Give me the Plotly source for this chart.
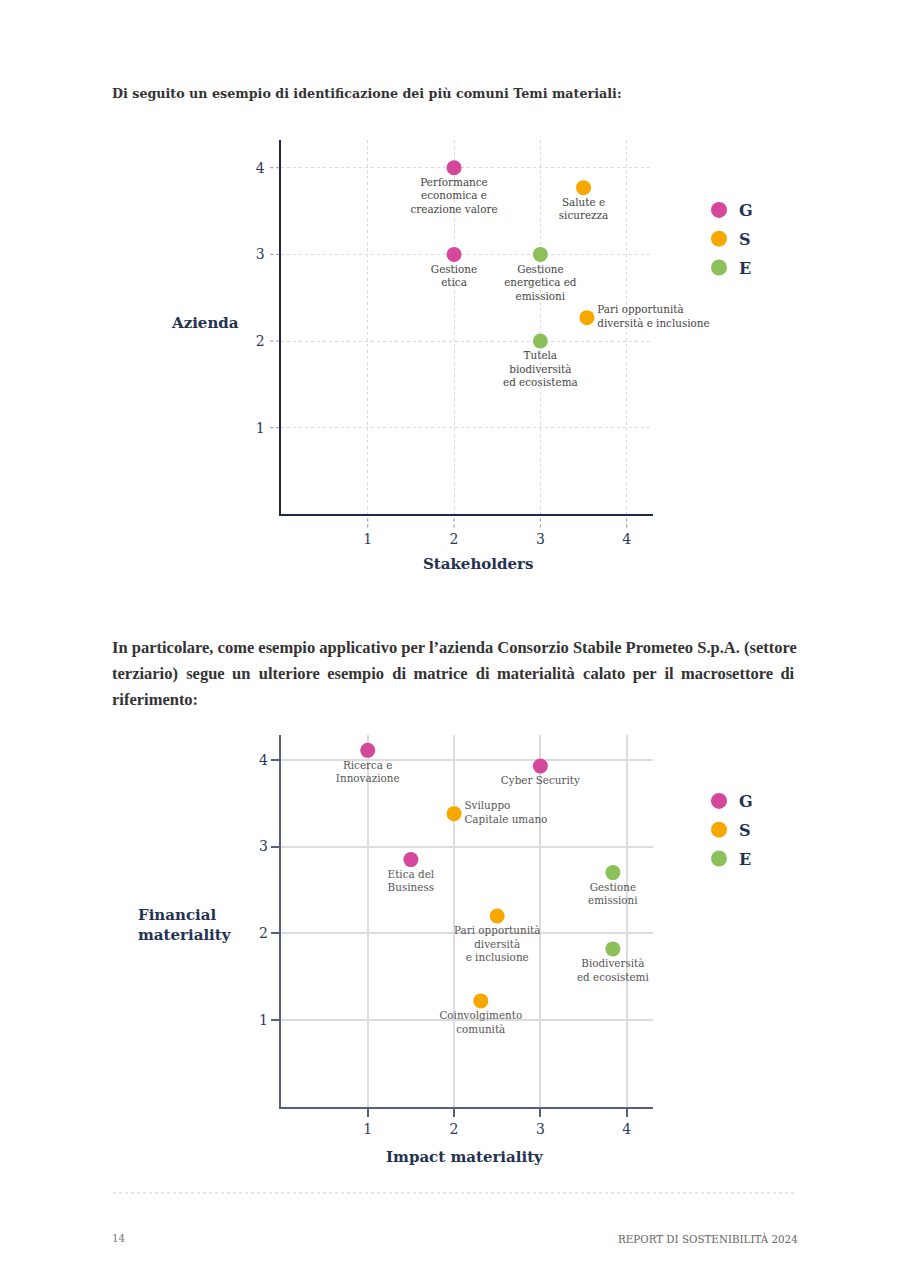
import plotly.graph_objects as go

W, H = 910, 1287

# ---------------- data ----------------
tick_vals = [1, 2, 3, 4]
categories = ["G", "S", "E"]
cat_colors = {"G": "#d5479b", "S": "#f7a800", "E": "#8cc05b"}

c1_labels = ["Performance<br>economica e<br>creazione valore", "Salute e<br>sicurezza",
             "Gestione<br>etica", "Gestione<br>energetica ed<br>emissioni",
             "Pari opportunità<br>diversità e inclusione", "Tutela<br>biodiversità<br>ed ecosistema"]
c1_stakeholders = [2, 3.5, 2, 3, 3.54, 3]
c1_azienda = [4, 3.77, 3, 3, 2.27, 2]
c1_cat = ["G", "S", "G", "E", "S", "E"]

c2_labels = ["Ricerca e<br>Innovazione", "Cyber Security", "Sviluppo<br>Capitale umano",
             "Etica del<br>Business", "Gestione<br>emissioni",
             "Pari opportunità<br>diversità<br>e inclusione", "Biodiversità<br>ed ecosistemi",
             "Coinvolgimento<br>comunità"]
c2_impact = [1, 3, 2, 1.5, 3.84, 2.5, 3.84, 2.31]
c2_financial = [4.11, 3.93, 3.38, 2.85, 2.70, 2.20, 1.82, 1.22]
c2_cat = ["G", "G", "S", "G", "E", "S", "E", "S"]

# label placement (style)
c1_textpos = ["bottom center"] * 4 + ["middle right", "bottom center"]
c2_textpos = ["bottom center", "bottom center", "middle right"] + ["bottom center"] * 5

heading1 = "Di seguito un esempio di identificazione dei più comuni Temi materiali:"
para_lines = [
    "In particolare, come esempio applicativo per l’azienda Consorzio Stabile Prometeo S.p.A. (settore",
    "terziario) segue un ulteriore esempio di matrice di materialità calato per il macrosettore di",
    "riferimento:",
]
para_justify = [False, True, False]

SERIF = "DejaVu Serif"
NAVY = "#243252"


def px_x(px):
    return px / W


def px_y(py):
    return 1 - py / H


def justify(line):
    # widen word gaps to mimic justified text
    words = line.split(" ")
    out = words[0]
    for k, w in enumerate(words[1:]):
        out += (" \u2005" if k % 2 == 0 and k < 12 else " \u2009") + w
    return out


fig = go.Figure()


def add_chart(xs, ys, labels, cats, textpos, xa, ya, legend_name, text_color):
    for cat in categories:
        idx = [i for i, c in enumerate(cats) if c == cat]
        fig.add_trace(go.Scatter(
            x=[xs[i] for i in idx], y=[ys[i] for i in idx],
            text=[labels[i] for i in idx],
            textposition=[textpos[i] for i in idx],
            mode="markers+text",
            marker=dict(size=15, color=cat_colors[cat]),
            textfont=dict(family=SERIF, size=10.4, color=text_color),
            xaxis=xa, yaxis=ya, showlegend=False, hoverinfo="skip", cliponaxis=False,
        ))
        # legend entry
        fig.add_trace(go.Scatter(
            x=[None], y=[None], mode="markers", name="<b>%s</b>" % cat,
            marker=dict(size=17, color=cat_colors[cat]),
            xaxis=xa, yaxis=ya, legend=legend_name, legendgroup=legend_name + cat,
        ))


add_chart(c1_stakeholders, c1_azienda, c1_labels, c1_cat, c1_textpos, "x", "y", "legend", "#444444")
add_chart(c2_impact, c2_financial, c2_labels, c2_cat, c2_textpos, "x2", "y2", "legend2", "#555555")

xdom = [px_x(281.4), px_x(653)]
tickfont = dict(family=SERIF, size=14, color="#2c3a5c")

fig.update_layout(
    width=W, height=H, margin=dict(l=0, r=0, t=0, b=0),
    paper_bgcolor="white", plot_bgcolor="white",
    xaxis=dict(domain=xdom, range=[0, 4.305], tickvals=tick_vals, showgrid=True,
               gridcolor="#dadada", griddash="dot", gridwidth=1, zeroline=False,
               showline=True, linecolor="#1e2a44", linewidth=2, ticks="",
               tickfont=tickfont, ticklabelstandoff=11, anchor="y", fixedrange=True),
    yaxis=dict(domain=[px_y(514.4), px_y(140)], range=[0, 4.32], tickvals=tick_vals,
               showgrid=True, gridcolor="#dadada", griddash="dot", gridwidth=1,
               zeroline=False, showline=True, linecolor="#1e2a44", linewidth=2, ticks="",
               tickfont=tickfont, ticklabelstandoff=12, anchor="x", fixedrange=True),
    xaxis2=dict(domain=xdom, range=[0, 4.305], tickvals=tick_vals, showgrid=True,
                gridcolor="#dcdcdc", gridwidth=2, zeroline=False,
                showline=True, linecolor="#56607a", linewidth=1.5, ticks="outside",
                ticklen=9, tickwidth=1.5, tickcolor="#56607a",
                tickfont=tickfont, anchor="y2", fixedrange=True),
    yaxis2=dict(domain=[px_y(1106.7), px_y(735)], range=[0, 4.287], tickvals=tick_vals,
                showgrid=True, gridcolor="#dcdcdc", gridwidth=2, zeroline=False,
                showline=True, linecolor="#56607a", linewidth=1.5, ticks="outside",
                ticklen=9, tickwidth=1.5, tickcolor="#56607a",
                tickfont=tickfont, anchor="x2", fixedrange=True),
    legend=dict(x=px_x(699), y=px_y(193), xanchor="left", yanchor="top",
                font=dict(family=SERIF, size=16, color=NAVY), bgcolor="rgba(0,0,0,0)",
                tracegroupgap=5, itemsizing="trace"),
    legend2=dict(x=px_x(699), y=px_y(784), xanchor="left", yanchor="top",
                 font=dict(family=SERIF, size=16, color=NAVY), bgcolor="rgba(0,0,0,0)",
                 tracegroupgap=5, itemsizing="trace"),
)

# dotted tick marks for chart 1
for v in tick_vals:
    fig.add_shape(type="line", xref="x domain", yref="y", x0=-0.03, x1=-0.003, y0=v, y1=v,
                  line=dict(color="#8a8f9c", width=1, dash="dot"))
    fig.add_shape(type="line", xref="x", yref="y domain", x0=v, x1=v, y0=-0.035, y1=-0.004,
                  line=dict(color="#8a8f9c", width=1, dash="dot"))

# footer rule
fig.add_shape(type="line", xref="paper", yref="paper", x0=px_x(113), x1=px_x(797),
              y0=px_y(1193), y1=px_y(1193), line=dict(color="#cfcfcf", width=1, dash="dot"))

ann = []
ann.append(dict(text="<b>" + heading1 + "</b>", x=px_x(110), y=px_y(93), xanchor="left",
                yanchor="middle", font=dict(family=SERIF, size=12.7, color="#333333")))
for i, line in enumerate(para_lines):
    txt = justify(line) if para_justify[i] else line
    ann.append(dict(text="<b>" + txt + "</b>", x=px_x(110), y=px_y(647 + 26 * i),
                    xanchor="left", yanchor="middle",
                    font=dict(family="Liberation Serif", size=16.5, color="#333333")))
TFONT = dict(family=SERIF, size=15, color=NAVY)
ann.append(dict(text="<b>Azienda</b>", x=px_x(205), y=px_y(323), xanchor="center",
                yanchor="middle", font=TFONT))
ann.append(dict(text="<b>Stakeholders</b>", x=px_x(478), y=px_y(564), xanchor="center",
                yanchor="middle", font=TFONT))
ann.append(dict(text="<b>Financial<br>materiality</b>", x=px_x(136), y=px_y(925),
                xanchor="left", yanchor="middle", align="left", font=TFONT))
ann.append(dict(text="<b>Impact materiality</b>", x=px_x(465), y=px_y(1157), xanchor="center",
                yanchor="middle", font=TFONT))
ann.append(dict(text="14", x=px_x(110), y=px_y(1238), xanchor="left", yanchor="middle",
                font=dict(family=SERIF, size=10.3, color="#777777")))
ann.append(dict(text="REPORT DI SOSTENIBILITÀ 2024", x=px_x(800), y=px_y(1238), xanchor="right",
                yanchor="middle", font=dict(family=SERIF, size=10.3, color="#666666")))
for a in ann:
    a.update(xref="paper", yref="paper", showarrow=False)
fig.update_layout(annotations=ann)

fig.write_html("out.html")
